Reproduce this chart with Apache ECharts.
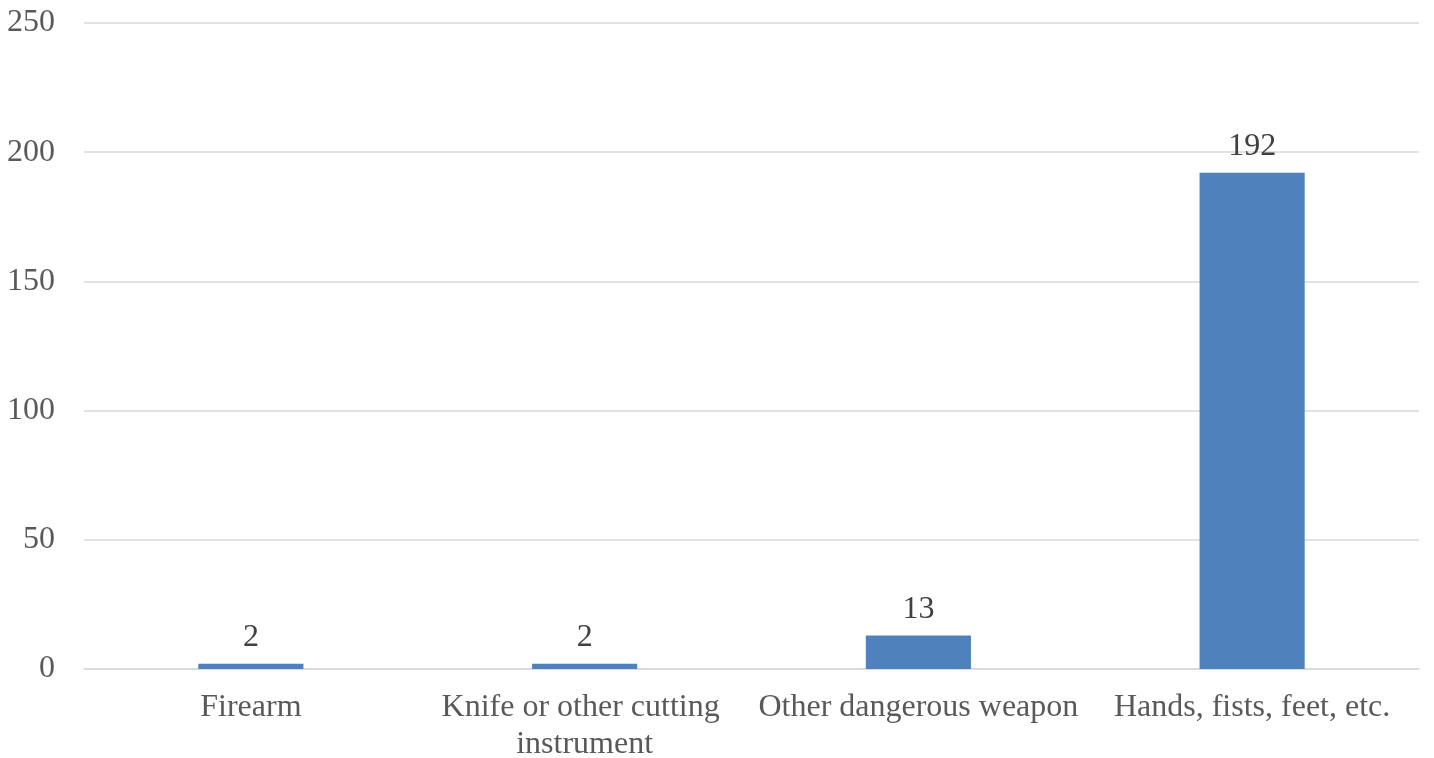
<!DOCTYPE html>
<html>
<head>
<meta charset="utf-8">
<script src="https://cdn.jsdelivr.net/npm/echarts@6/dist/echarts.min.js"></script>
<style>html,body{margin:0;padding:0;background:#fff}#c{width:1434px;height:758px}</style>
</head>
<body>
<div id="c"></div>
<script>
const categories = ["Firearm", "Knife or other cutting instrument", "Other dangerous weapon", "Hands, fists, feet, etc."];
const values = [2, 2, 13, 192];
const yMin = 0, yMax = 250, yStep = 50;

const chart = echarts.init(document.getElementById('c'), null, {renderer: 'canvas'});
const font = '"Liberation Serif", "Times New Roman", serif';
chart.setOption({
  animation: false,
  grid: {left: 84, right: 15, top: 23, bottom: 89, containLabel: false, outerBoundsMode: 'none'},
  xAxis: {
    type: 'category',
    data: categories,
    axisLine: {show: true, lineStyle: {color: '#d9d9d9', width: 1.5}},
    axisTick: {show: false},
    axisLabel: {interval: 0, color: '#595959', fontFamily: font, fontSize: 32, margin: 20, width: 332, overflow: 'break', lineHeight: 37}
  },
  yAxis: {
    type: 'value', min: yMin, max: yMax, interval: yStep,
    axisLine: {show: false}, axisTick: {show: false},
    splitLine: {lineStyle: {color: '#d9d9d9', width: 1.5}},
    axisLabel: {color: '#595959', fontFamily: font, fontSize: 32, margin: 29}
  },
  series: [{
    type: 'bar',
    data: values,
    barWidth: '31.5%',
    itemStyle: {color: '#4f81bd'},
    label: {show: true, position: 'top', color: '#404040', fontFamily: font, fontSize: 32, distance: 10}
  }]
});
</script>
</body>
</html>
